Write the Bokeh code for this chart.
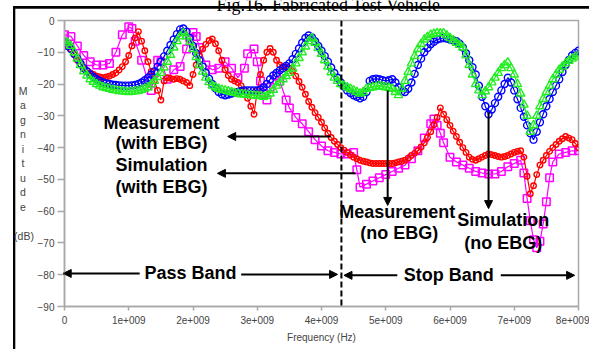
from bokeh.plotting import figure
from bokeh.layouts import column
from bokeh.models import Range1d, FixedTicker, Label, Arrow, NormalHead, Span
from bokeh.core.properties import value
from bokeh.embed import file_html
from bokeh.resources import INLINE

# ---------------- data (frequency in GHz, magnitude in dB) ----------------
# the three denser traces are read every 0.05 GHz from 0 to 8 GHz
f_grid = [i / 20 for i in range(161)]

m_meas_noebg = [-7,-8,-9,-10.5,-12,-13.5,-15,-16,-17,-17.8,-18.5,-19,-19.5,-19.8,-20,-20.2,-20.3,-20.4,-20.5,-20.5,
                -20.5,-20.4,-20.3,-20,-19.5,-18.8,-18,-17,-16,-14.5,-13,-11.3,-9.5,-7.7,-6,-4.3,-2.8,-2.5,-3.5,-5.5,
                -8,-10.3,-12.5,-14.5,-16.5,-18.3,-20,-21.3,-22.5,-23.2,-23.5,-23.3,-23,-22.7,-22.5,-22.2,-22,-22,-22,-22,
                -22,-21.7,-21,-20,-18.5,-17.3,-16.5,-15.7,-15,-14.3,-13.5,-12.2,-10.5,-8.8,-7,-5.5,-4.7,-5.3,-6.5,-8,
                -9.5,-11.2,-13,-14.8,-16.5,-18,-19.5,-20.8,-22,-22.8,-23.5,-24,-24.5,-24,-22.5,-19,-18.5,-18.3,-18.5,-18.8,
                -19,-18.8,-18.5,-19.5,-21,-22.3,-22.5,-21.5,-19.5,-16.8,-14,-12,-10,-8.7,-7.5,-6.7,-6,-5.7,-5.5,-5.7,
                -6,-6.2,-6.5,-7.3,-8.5,-10.3,-12.5,-14.7,-17,-20.5,-24,-27,-29.5,-28,-26,-24,-22,-20,-18,-19.5,
                -22,-24.8,-27.5,-30.3,-33,-35.5,-37.5,-35,-32,-29.5,-27,-24.7,-22.5,-20.5,-18.5,-16.2,-14,-12.4,-11,-10.2,
                -9.5]

m_sim_noebg = [-6.5,-7,-8,-10,-12,-14,-16,-17.3,-18.5,-19.3,-20,-20.5,-21,-21.3,-21.5,-21.8,-22,-22.2,-22.3,-22.4,
               -22.5,-22.4,-22.3,-22.1,-21.8,-21.4,-21,-20.1,-19,-17.8,-16.5,-14.8,-13,-10.8,-8.5,-6.5,-5,-4,-5,-6.8,
               -9,-11.5,-14,-16.1,-18,-19.4,-20.5,-21,-21.5,-21.8,-22,-22.3,-22.5,-22.8,-23,-23.2,-23.3,-23.4,-23.5,-23.6,
               -23.7,-23.8,-24,-23.7,-23,-21.8,-20.5,-19.5,-18.5,-17.5,-16.5,-15.1,-13.5,-11.8,-10,-8.2,-6.5,-5.5,-7,-8.7,
               -10.5,-12.5,-14.5,-16.3,-18,-19,-20,-20.5,-21,-21.5,-22,-22.5,-23,-22.5,-21.5,-21.2,-21,-20.8,-20.5,-20.8,
               -21,-21.2,-21.5,-22.5,-23.5,-21.5,-19,-16.2,-13.5,-11.2,-9,-7.4,-6,-5.2,-4.5,-4.2,-4,-4,-4,-4.7,
               -5.5,-6.2,-7,-7.7,-8.5,-11,-14,-17,-20,-22,-23.5,-22.3,-21,-19.5,-18,-16.5,-15,-14,-13.2,-15,
               -17,-20,-23,-26.5,-30,-35,-33,-30,-27,-24.7,-22.5,-20.5,-18.5,-17,-15.5,-14.5,-13.5,-12.7,-12,-11.5,
               -11]

m_meas_ebg = [-7,-8,-9,-10.7,-12.5,-13.8,-15,-15.8,-16.5,-17,-17.5,-17.8,-18,-17.8,-17.5,-17,-16.5,-15.6,-14.5,-13,
              -11,-8,-5.5,-3.5,-6.5,-9.5,-13,-16,-19,-22,-25,-19,-18,-18.2,-18.5,-18.3,-18.5,-19,-19.5,-20.5,
              -17,-14,-11,-9,-7.5,-6.3,-5.8,-7.3,-9.5,-12.5,-15.5,-17.3,-18.5,-19,-19.5,-20.5,-22,-24.5,-27,-29.5,
              -22,-17,-12.5,-10,-8.8,-10,-12.5,-14,-14.5,-14.8,-15,-16,-17.5,-19.2,-21,-23.2,-25.5,-27.3,-29,-30.5,
              -32,-33.8,-35.5,-36.8,-38,-39,-40,-40.8,-41.5,-42.3,-43,-43.5,-44,-44.3,-44.5,-44.8,-45,-45,-45,-45,
              -45,-45,-45,-44.8,-44.5,-44.3,-44,-43.3,-42.5,-41.8,-41,-39.8,-38.5,-36.8,-35,-32.8,-30.5,-27.5,-29.5,-31.2,
              -33,-34.8,-36.5,-38.3,-40,-41.5,-43,-43.7,-44,-43.5,-43,-42.5,-42,-42.2,-42.5,-42.8,-43,-42.8,-42.5,-42,
              -41.5,-41.2,-41,-43,-49,-54.5,-52,-48.5,-45.5,-44,-42.5,-41.2,-40,-39,-38,-37.2,-36.5,-37,-37.5,-38.7,
              -40]

f_sim_ebg = [0.0,0.1,0.2,0.3,0.4,0.5,0.6,0.7,0.8,0.9,1.0,1.05,1.1,1.2,1.3,1.35,1.4,1.45,1.5,1.6,1.7,1.8,1.9,1.95,
             2.0,2.05,2.1,2.2,2.3,2.4,2.5,2.6,2.7,2.8,2.85,2.95,3.0,3.05,3.1,3.15,3.2,3.3,3.35,3.45,3.5,3.6,3.7,
             3.8,3.9,4.0,4.1,4.2,4.3,4.4,4.5,4.55,4.6,4.7,4.8,4.9,5.0,5.1,5.2,5.3,5.4,5.5,5.6,5.7,5.75,5.8,5.85,
             5.9,6.0,6.1,6.2,6.3,6.4,6.5,6.6,6.7,6.8,6.9,7.0,7.1,7.15,7.2,7.25,7.3,7.35,7.4,7.45,7.5,7.55,7.6,
             7.7,7.8,7.9,8.0]
m_sim_ebg = [-4.5,-5,-8,-11,-13,-14,-14,-13.5,-10,-4.5,-2,-2.5,-6.5,-12.5,-19,-22,-16.5,-12.5,-13,-18.5,-15.5,-14.5,-9,-5.5,
             -3.8,-5,-8.5,-14,-15.5,-15,-13,-15,-18,-15,-10.5,-9,-13,-19,-23,-25,-21,-17.5,-19,-25,-27.5,-30.5,-32.5,
             -35,-37.5,-39.5,-41,-41.5,-42,-42,-41.5,-47,-52.5,-51.5,-50.5,-49.5,-48.5,-47.5,-46.5,-45.5,-43.5,-41,-37,-32.5,-31,-33,-35.5,
             -38.5,-43,-44.5,-45.5,-46.5,-47.5,-48,-48.3,-48.3,-47.5,-46,-45,-44,-48,-56,-63,-69,-71.5,-69.5,-64,-57,-49.5,-44.5,
             -42,-41.5,-41,-41]

x_ticks = [0, 1e9, 2e9, 3e9, 4e9, 5e9, 6e9, 7e9, 8e9]
x_tick_labels = ["0", "1e+009", "2e+009", "3e+009", "4e+009", "5e+009", "6e+009", "7e+009", "8e+009"]
y_ticks = [-90, -80, -70, -60, -50, -40, -30, -20, -10, 0]

for fa, ma in [(f_grid, m_meas_noebg), (f_grid, m_sim_noebg),
               (f_grid, m_meas_ebg), (f_sim_ebg, m_sim_ebg)]:
    assert len(fa) == len(ma), (len(fa), len(ma))

GHZ = 1e9
def hz(lst):
    return [v * GHZ for v in lst]

W, H = 589, 349

# ---------------- background page layer (frame lines, clipped caption, y title) ----------------
bg = figure(width=W, height=H, output_backend="svg", toolbar_location=None,
            x_range=Range1d(0, W), y_range=Range1d(H, 0),
            x_axis_type=None, y_axis_type=None, min_border=0)
bg.frame_align = False
bg.xgrid.visible = False
bg.ygrid.visible = False
bg.outline_line_color = None
bg.quad(left=[13], right=[W], top=[5.5], bottom=[8.2], fill_color="black", line_color=None)
bg.quad(left=[12.5], right=[14.8], top=[5.5], bottom=[H], fill_color="black", line_color=None)
bg.text(x=[328], y=[4.5], text=["Fig.16. Fabricated Test Vehicle"], text_align="center",
        text_baseline="alphabetic", text_font=value("Liberation Serif"),
        text_font_size=value("18px"), text_color="black")
ylab_letters = ["M", "a", "g", "n", "i", "t", "u", "d", "e", "(dB)"]
ylab_x = [22.5] * 9 + [23.5]
ylab_y = [90, 104.5, 119, 133.5, 148, 162.5, 177, 191.5, 206, 235]
bg.text(x=ylab_x, y=ylab_y, text=ylab_letters, text_align="center", text_baseline="middle",
        text_font=value("Liberation Sans"), text_font_size=value("10.5px"), text_color="#444444")

# ---------------- main chart ----------------
p = figure(width=W, height=H, output_backend="svg", toolbar_location=None,
           x_range=Range1d(0, 8e9), y_range=Range1d(-90, 0),
           min_border_left=64, min_border_right=11, min_border_top=20, min_border_bottom=43,
           background_fill_alpha=0, border_fill_alpha=0)
p.frame_align = False
p.styles = {"position": "absolute", "left": "0px", "top": "0px"}
p.xgrid.visible = False
p.ygrid.visible = False
p.outline_line_color = "#a8a8a8"
p.outline_line_width = 1.5

p.xaxis.ticker = FixedTicker(ticks=x_ticks)
p.xaxis.major_label_overrides = {int(t): lab for t, lab in zip(x_ticks, x_tick_labels)}
p.yaxis.ticker = FixedTicker(ticks=y_ticks)
for ax in (p.xaxis[0], p.yaxis[0]):
    ax.axis_line_color = "#a8a8a8"
    ax.axis_line_width = 1.5
    ax.major_tick_line_color = "#a8a8a8"
    ax.major_tick_line_width = 1.5
    ax.minor_tick_line_color = None
    ax.major_tick_in = 0
    ax.major_label_text_font = "Liberation Sans"
    ax.major_label_text_font_size = "10px"
    ax.major_label_text_color = "#444444"
p.xaxis.major_tick_out = 4
p.xaxis.major_label_standoff = 5
p.yaxis.major_tick_out = 7
p.yaxis.major_label_standoff = 3
p.xaxis.axis_label = "Frequency (Hz)"
p.xaxis.axis_label_text_font = "Liberation Sans"
p.xaxis.axis_label_text_font_size = "10px"
p.xaxis.axis_label_text_font_style = "normal"
p.xaxis.axis_label_text_color = "#444444"
p.xaxis.axis_label_standoff = 5

# ---------------- series ----------------
c_sim_ebg, c_meas_ebg, c_meas_noebg, c_sim_noebg = "#ff00ff", "#ff0000", "#0000ff", "#22ee22"

p.line(hz(f_sim_ebg), m_sim_ebg, line_color=c_sim_ebg, line_width=1.2)
p.scatter(hz(f_sim_ebg), m_sim_ebg, marker="square", size=7.5, fill_color=None,
          line_color=c_sim_ebg, line_width=1.5)
p.line(hz(f_grid), m_meas_ebg, line_color=c_meas_ebg, line_width=1.2)
p.scatter(hz(f_grid), m_meas_ebg, marker="circle", size=5.5, fill_color=None,
          line_color=c_meas_ebg, line_width=1.4)
p.line(hz(f_grid), m_meas_noebg, line_color=c_meas_noebg, line_width=1.2)
p.scatter(hz(f_grid), m_meas_noebg, marker="circle", size=7, fill_color=None,
          line_color=c_meas_noebg, line_width=1.4)
p.line(hz(f_grid), m_sim_noebg, line_color=c_sim_noebg, line_width=1.2)
p.scatter(hz(f_grid), m_sim_noebg, marker="triangle", size=8.5, fill_color=None,
          line_color=c_sim_noebg, line_width=1.4)

# pass / stop band boundary
p.add_layout(Span(location=4.31e9, dimension="height", line_color="black",
                  line_dash="6 3", line_width=2))

# ---------------- annotations ----------------
def label(x, y, text, size="18px"):
    p.add_layout(Label(x=x, y=y, text=text, text_align="center", text_baseline="middle",
                       text_font="Liberation Sans", text_font_size=size,
                       text_font_style="bold", text_color="black"))

def arrow(x0, y0, x1, y1):
    p.add_layout(Arrow(end=NormalHead(size=8, fill_color="black", line_color="black", line_width=1),
                       x_start=x0, y_start=y0, x_end=x1, y_end=y1,
                       line_color="black", line_width=2))

label(1.51e9, -32.1, "Measurement")
label(1.51e9, -38.7, "(with EBG)")
label(1.51e9, -45.6, "Simulation")
label(1.51e9, -52.5, "(with EBG)")
arrow(4.14e9, -36.5, 2.54e9, -36.5)
arrow(4.53e9, -48.1, 2.38e9, -48.1)

label(5.18e9, -60.4, "Measurement")
label(5.21e9, -67.0, "(no EBG)")
arrow(5.03e9, -22.0, 5.03e9, -58.2)
label(6.83e9, -62.9, "Simulation")
label(6.83e9, -69.9, "(no EBG)")
arrow(6.60e9, -28.9, 6.60e9, -59.2)

label(1.96e9, -79.6, "Pass Band")
arrow(1.17e9, -79.6, -0.02e9, -79.6)
arrow(2.75e9, -79.9, 4.25e9, -79.9)
label(5.98e9, -80.2, "Stop Band")
arrow(5.18e9, -80.2, 4.35e9, -80.2)
arrow(6.79e9, -80.2, 7.94e9, -80.2)

layout = column(bg, p)
open("out.html", "w").write(file_html(layout, INLINE))
